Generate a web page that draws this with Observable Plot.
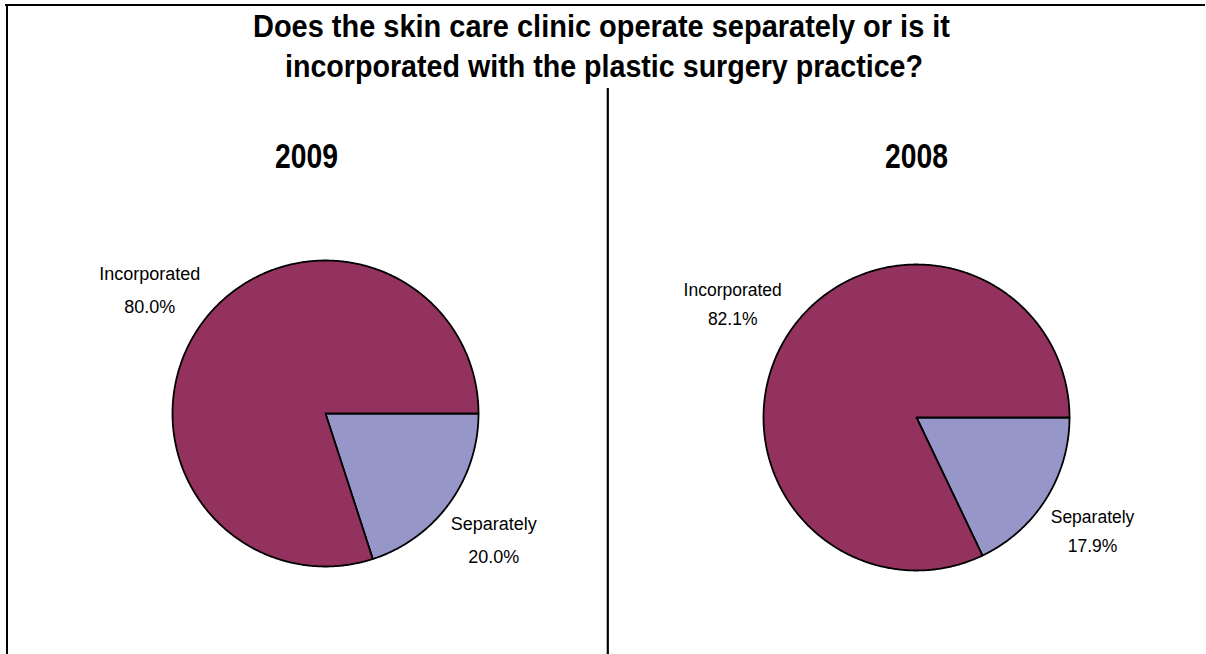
<!DOCTYPE html>
<html>
<head>
<meta charset="utf-8">
<script src="https://cdn.jsdelivr.net/npm/d3@7"></script>
<script src="https://cdn.jsdelivr.net/npm/@observablehq/plot@0.6"></script>
<style>
  html, body { margin: 0; padding: 0; background: #fff; }
  #wrap { position: relative; width: 1206px; height: 654px; overflow: hidden; background: #fff; font-family: "Liberation Sans", Arial, sans-serif; }
  #frame { position: absolute; left: 0; top: 0; }
  .pie { position: absolute; top: 0; }
</style>
</head>
<body>
<div id="wrap">
  <svg id="frame" width="1206" height="654">
    <line x1="5" y1="5" x2="1205" y2="5" stroke="#000" stroke-width="2"/>
    <line x1="7" y1="4" x2="7" y2="654" stroke="#000" stroke-width="2"/>
    <line x1="607.8" y1="88" x2="607.8" y2="654" stroke="#000" stroke-width="2.2"/>
    <text x="601.5" y="37" text-anchor="middle" font-family="Liberation Sans, Arial, sans-serif" font-weight="bold" font-size="31" textLength="697" lengthAdjust="spacingAndGlyphs">Does the skin care clinic operate separately or is it</text>
    <text x="604" y="77" text-anchor="middle" font-family="Liberation Sans, Arial, sans-serif" font-weight="bold" font-size="31" textLength="638" lengthAdjust="spacingAndGlyphs">incorporated with the plastic surgery practice?</text>
    <text id="y0" x="306.5" y="168" text-anchor="middle" font-family="Liberation Sans, Arial, sans-serif" font-weight="bold" font-size="35" textLength="63" lengthAdjust="spacingAndGlyphs"></text>
    <text id="y1" x="916.5" y="168" text-anchor="middle" font-family="Liberation Sans, Arial, sans-serif" font-weight="bold" font-size="35" textLength="63" lengthAdjust="spacingAndGlyphs"></text>
  </svg>
</div>
<script>
// ---- data ----
const categories = ["Incorporated", "Separately"];
const years = ["2009", "2008"];
const values2009 = [80.0, 20.0];
const values2008 = [82.1, 17.9];
const sliceColors = ["#93325e", "#9696c9"];

// ---- layout (pixels) ----
const pies = [
  {year: years[0], values: values2009, left: 0, cx: 325, cy: 413, r: 153, lineHeight: 1.85, fontSize: 18},
  {year: years[1], values: values2008, left: 606, cx: 916, cy: 417, r: 153, lineHeight: 1.65, fontSize: 17.5}
];
const labelRadius = [1.42, 1.36]; // per category, in units of pie radius

document.getElementById("y0").textContent = years[0];
document.getElementById("y1").textContent = years[1];

function slices(values) {
  // Separately starts at 3 o'clock and runs clockwise, Incorporated takes the rest
  const order = [1, 0];
  const total = d3.sum(values);
  const pts = [];
  const labels = [];
  let a = 0;
  for (const i of order) {
    const span = values[i] / total * 2 * Math.PI;
    const a0 = a, a1 = a + span;
    pts.push({slice: categories[i], x: 0, y: 0});
    const n = Math.max(2, Math.ceil(span / (Math.PI / 360)));
    for (let k = 0; k <= n; k++) {
      const t = a0 + (a1 - a0) * k / n;
      pts.push({slice: categories[i], x: Math.cos(t), y: Math.sin(t)});
    }
    const m = (a0 + a1) / 2;
    labels.push({slice: categories[i], x: labelRadius[i] * Math.cos(m), y: labelRadius[i] * Math.sin(m),
                 text: categories[i] + "\n" + values[i].toFixed(1) + "%"});
    a = a1;
  }
  return {pts, labels};
}

const wrap = document.getElementById("wrap");
for (const p of pies) {
  const {pts, labels} = slices(p.values);
  const w = 600;
  const chart = Plot.plot({
    width: w,
    height: 654,
    margin: 0,
    style: {background: "transparent", overflow: "visible"},
    x: {domain: [-1, 1], range: [p.cx - p.left - p.r, p.cx - p.left + p.r], axis: null},
    y: {domain: [-1, 1], range: [p.cy - p.r, p.cy + p.r], axis: null},
    color: {domain: categories, range: sliceColors},
    marks: [
      Plot.line(pts, {x: "x", y: "y", z: "slice", fill: "slice", stroke: "#000", strokeWidth: 1.8,
                      strokeLinejoin: "round", curve: "linear-closed"}),
      Plot.text(labels, {x: "x", y: "y", text: "text", fill: "#000", fontSize: p.fontSize,
                         fontFamily: "Liberation Sans, Arial, sans-serif", lineHeight: p.lineHeight,
                         textAnchor: "middle"})
    ]
  });
  chart.classList.add("pie");
  chart.style.left = p.left + "px";
  wrap.appendChild(chart);
}
</script>
</body>
</html>
